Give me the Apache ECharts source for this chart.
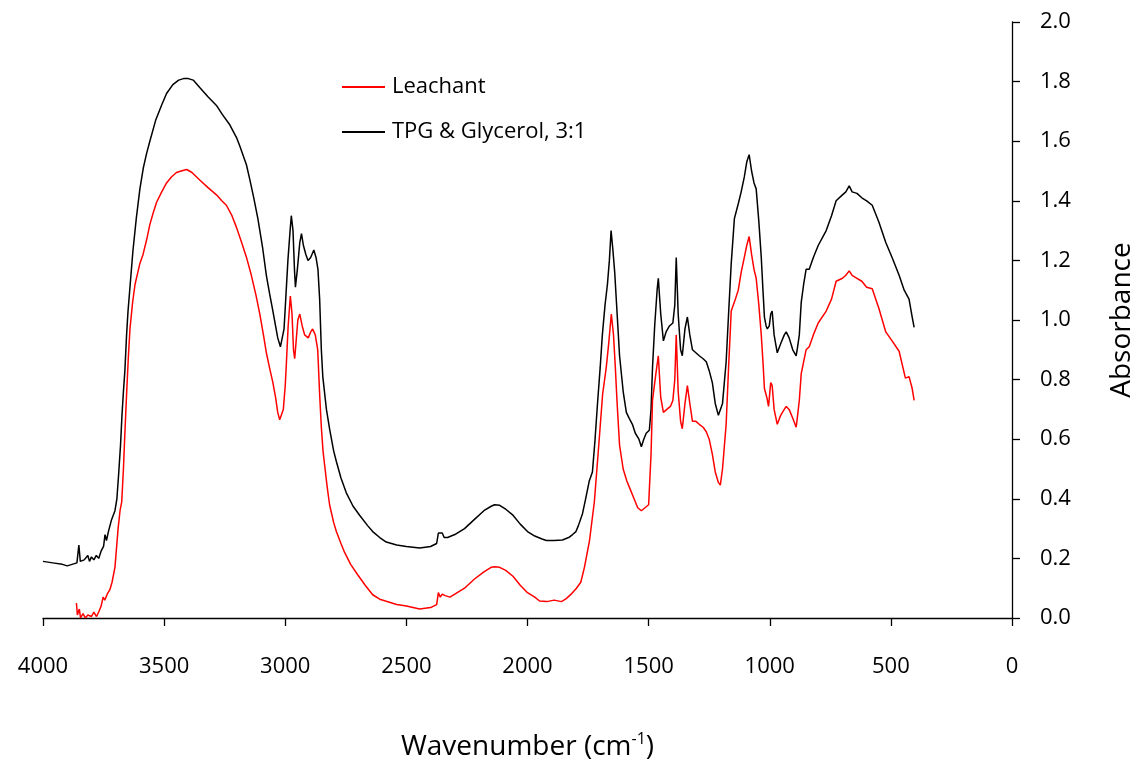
<!DOCTYPE html>
<html>
<head>
<meta charset="utf-8">
<script src="https://cdn.jsdelivr.net/npm/echarts@6/dist/echarts.min.js"></script>
<style>html,body{margin:0;padding:0;background:#fff}#c{width:1138px;height:763px}</style>
</head>
<body>
<div id="c"></div>
<script>
const xTicks = [4000, 3500, 3000, 2500, 2000, 1500, 1000, 500, 0];
const yTicks = [0, 0.2, 0.4, 0.6, 0.8, 1.0, 1.2, 1.4, 1.6, 1.8, 2.0];

const tpgWn = [4000,3960,3920,3900,3880,3860,3852,3846,3830,3815,3808,3800,3790,3780,3770,3760,3750,3744,3738,3730,3717,3703,3695,3688,3680,3674,3668,3662,3655,3649,3640,3629,3615,3600,3586,3572,3559,3535,3511,3490,3464,3440,3420,3400,3380,3353,3320,3284,3260,3229,3200,3188,3160,3146,3130,3113,3093,3078,3065,3051,3040,3031,3020,3012,3005,2998,2989,2980,2975,2968,2962,2958,2950,2940,2933,2925,2915,2906,2895,2882,2873,2865,2858,2851,2845,2830,2817,2800,2789,2770,2748,2720,2693,2660,2639,2610,2583,2540,2500,2445,2400,2375,2368,2360,2352,2344,2330,2300,2260,2220,2180,2150,2136,2115,2090,2060,2030,2000,1970,1940,1922,1890,1856,1830,1814,1800,1790,1773,1760,1745,1732,1722,1711,1700,1691,1680,1670,1662,1655,1648,1640,1630,1620,1605,1592,1580,1567,1555,1540,1530,1520,1510,1497,1490,1484,1475,1465,1460,1450,1439,1428,1414,1400,1392,1386,1378,1368,1361,1350,1340,1330,1319,1305,1291,1275,1262,1250,1237,1225,1212,1204,1195,1180,1170,1159,1146,1130,1118,1105,1095,1085,1075,1065,1056,1045,1035,1028,1022,1015,1010,1002,996,990,982,969,955,940,932,920,905,891,885,878,870,860,850,837,820,800,767,745,726,700,686,672,660,640,620,600,577,550,521,495,466,445,425,412,404];
const tpgAbs = [0.19,0.185,0.18,0.175,0.18,0.185,0.245,0.19,0.195,0.21,0.19,0.205,0.195,0.21,0.2,0.225,0.24,0.28,0.26,0.29,0.33,0.36,0.40,0.48,0.58,0.68,0.76,0.83,0.95,1.03,1.12,1.23,1.34,1.44,1.51,1.56,1.60,1.67,1.72,1.76,1.79,1.805,1.81,1.81,1.805,1.78,1.75,1.72,1.69,1.655,1.61,1.585,1.52,1.47,1.41,1.34,1.24,1.15,1.09,1.03,0.98,0.94,0.91,0.91,0.97,1.07,1.20,1.30,1.35,1.30,1.17,1.11,1.17,1.26,1.29,1.25,1.22,1.20,1.21,1.235,1.21,1.17,1.07,0.90,0.81,0.70,0.635,0.56,0.525,0.47,0.42,0.375,0.345,0.31,0.29,0.27,0.255,0.245,0.24,0.235,0.24,0.25,0.285,0.28,0.285,0.27,0.27,0.28,0.30,0.33,0.36,0.375,0.38,0.378,0.365,0.345,0.315,0.29,0.275,0.265,0.26,0.26,0.262,0.27,0.28,0.29,0.31,0.35,0.40,0.46,0.49,0.59,0.72,0.84,0.95,1.05,1.12,1.20,1.30,1.24,1.16,1.02,0.88,0.76,0.69,0.67,0.65,0.62,0.60,0.575,0.60,0.62,0.63,0.70,0.84,0.98,1.10,1.14,1.02,0.93,0.96,0.98,0.99,1.05,1.21,1.02,0.90,0.88,0.97,1.01,0.95,0.90,0.89,0.88,0.87,0.86,0.83,0.79,0.72,0.68,0.675,0.72,0.86,1.02,1.19,1.34,1.39,1.43,1.48,1.53,1.555,1.50,1.46,1.44,1.33,1.21,1.10,1.01,0.98,0.97,0.98,1.02,1.03,0.95,0.89,0.92,0.95,0.96,0.94,0.90,0.88,0.91,0.95,1.06,1.12,1.17,1.17,1.21,1.25,1.30,1.35,1.40,1.42,1.43,1.45,1.43,1.425,1.41,1.40,1.385,1.33,1.26,1.21,1.15,1.10,1.07,1.01,0.975];

const leachWn = [3862,3858,3850,3845,3835,3825,3815,3800,3790,3779,3770,3760,3752,3745,3735,3724,3715,3703,3695,3690,3682,3675,3668,3662,3655,3648,3641,3630,3620,3600,3587,3572,3559,3545,3531,3510,3490,3470,3449,3430,3407,3385,3353,3320,3284,3262,3243,3220,3201,3180,3160,3140,3120,3105,3090,3078,3065,3051,3040,3031,3023,3016,3008,3000,2995,2988,2979,2972,2966,2961,2955,2948,2940,2930,2920,2905,2895,2887,2876,2866,2858,2851,2844,2837,2827,2817,2800,2789,2770,2755,2730,2701,2670,2639,2610,2583,2540,2500,2445,2400,2375,2368,2360,2352,2340,2320,2300,2260,2220,2180,2150,2136,2115,2090,2060,2030,2000,1970,1950,1920,1890,1860,1840,1820,1798,1780,1765,1744,1724,1703,1690,1675,1665,1654,1645,1638,1630,1620,1605,1590,1575,1560,1545,1530,1515,1500,1490,1484,1470,1460,1450,1439,1425,1410,1400,1392,1386,1378,1368,1361,1350,1340,1330,1319,1305,1291,1275,1262,1250,1237,1225,1212,1204,1195,1180,1170,1159,1146,1130,1118,1105,1095,1085,1075,1065,1056,1045,1035,1028,1022,1012,1005,996,990,982,969,955,940,932,920,905,891,885,878,870,860,850,837,820,800,767,745,726,700,686,672,660,640,620,600,577,550,521,495,466,440,425,412,404];
const leachAbs = [0.05,0.01,0.03,0.0,0.015,0.0,0.01,0.005,0.02,0.005,0.02,0.04,0.07,0.06,0.08,0.095,0.12,0.17,0.25,0.30,0.36,0.39,0.50,0.62,0.75,0.87,0.97,1.06,1.12,1.19,1.22,1.27,1.32,1.36,1.395,1.43,1.46,1.48,1.495,1.50,1.505,1.495,1.47,1.445,1.42,1.40,1.385,1.35,1.31,1.26,1.21,1.15,1.08,1.02,0.95,0.89,0.84,0.79,0.74,0.69,0.665,0.67,0.70,0.78,0.86,0.98,1.08,1.02,0.90,0.87,0.93,1.00,1.02,0.98,0.95,0.94,0.96,0.97,0.95,0.90,0.75,0.64,0.56,0.51,0.44,0.38,0.32,0.29,0.25,0.22,0.18,0.145,0.11,0.078,0.063,0.056,0.045,0.04,0.03,0.035,0.045,0.085,0.07,0.08,0.075,0.07,0.08,0.10,0.13,0.155,0.17,0.172,0.17,0.16,0.14,0.11,0.085,0.07,0.057,0.055,0.06,0.055,0.065,0.08,0.10,0.12,0.17,0.26,0.39,0.61,0.75,0.84,0.92,1.02,0.95,0.85,0.72,0.58,0.50,0.46,0.43,0.40,0.37,0.36,0.37,0.38,0.55,0.73,0.82,0.88,0.74,0.69,0.70,0.71,0.73,0.80,0.95,0.76,0.66,0.635,0.72,0.78,0.72,0.66,0.66,0.65,0.64,0.625,0.60,0.55,0.49,0.455,0.446,0.50,0.65,0.84,1.03,1.06,1.10,1.16,1.21,1.25,1.28,1.22,1.17,1.14,1.05,0.95,0.86,0.77,0.74,0.71,0.79,0.78,0.70,0.65,0.68,0.70,0.71,0.70,0.67,0.64,0.68,0.73,0.82,0.86,0.90,0.91,0.95,0.99,1.03,1.07,1.13,1.14,1.15,1.165,1.15,1.14,1.13,1.11,1.105,1.04,0.96,0.93,0.895,0.805,0.81,0.77,0.73];

const FONT = '"Open Sans", "DejaVu Sans", sans-serif';
const pairs = (xs, ys) => xs.map((x, i) => [x, ys[i]]);

const chart = echarts.init(document.getElementById('c'), null, {renderer: 'canvas'});
chart.setOption({
  animation: false,
  backgroundColor: '#fff',
  textStyle: {fontFamily: FONT},
  grid: {left: 43, right: 126, top: 22, bottom: 145, containLabel: false, outerBoundsMode: 'none'},
  legend: {
    orient: 'vertical', left: 337, top: 69,
    itemWidth: 43, itemHeight: 2, itemGap: 19, icon: 'rect',
    textStyle: {fontFamily: FONT, fontSize: 22, color: '#000', lineHeight: 26, padding: [0, 0, 0, 2]},
    data: ['Leachant', 'TPG & Glycerol, 3:1']
  },
  xAxis: {
    type: 'value', min: xTicks[xTicks.length - 1], max: xTicks[0], interval: 500, inverse: true,
    name: '{a|Wavenumber (cm}{s|-1}{a|)}',
    nameLocation: 'middle', nameGap: 113,
    nameTextStyle: {rich: {a: {fontFamily: FONT, fontSize: 28, color: '#000', verticalAlign: 'bottom'}, s: {fontFamily: FONT, fontSize: 16, color: '#000', verticalAlign: 'top', padding: [0, 0, 14, 0]}}},
    axisLine: {show: true, onZero: false, lineStyle: {color: '#000', width: 1.3}},
    axisTick: {show: true, inside: false, length: 8, lineStyle: {color: '#000', width: 1.3}},
    axisLabel: {fontFamily: FONT, fontSize: 22, color: '#000', margin: 38, formatter: v => String(v)},
    splitLine: {show: false}
  },
  yAxis: {
    type: 'value', position: 'right', min: yTicks[0], max: yTicks[yTicks.length - 1], interval: 0.2,
    name: 'Absorbance', nameLocation: 'middle', nameGap: 96, nameRotate: 90,
    nameTextStyle: {fontFamily: FONT, fontSize: 28, color: '#000'},
    axisLine: {show: true, onZero: false, lineStyle: {color: '#000', width: 1.3}},
    axisTick: {show: true, inside: false, length: 8, lineStyle: {color: '#000', width: 1.3}},
    axisLabel: {fontFamily: FONT, fontSize: 22, color: '#000', margin: 28, formatter: v => v.toFixed(1)},
    splitLine: {show: false}
  },
  series: [
    {name: 'Leachant', type: 'line', showSymbol: false, symbol: 'none', z: 3,
     lineStyle: {color: '#ff0000', width: 1.5}, itemStyle: {color: '#ff0000'},
     data: pairs(leachWn, leachAbs)},
    {name: 'TPG & Glycerol, 3:1', type: 'line', showSymbol: false, symbol: 'none', z: 2,
     lineStyle: {color: '#000000', width: 1.5}, itemStyle: {color: '#000000'},
     data: pairs(tpgWn, tpgAbs)}
  ]
});
</script>
</body>
</html>
